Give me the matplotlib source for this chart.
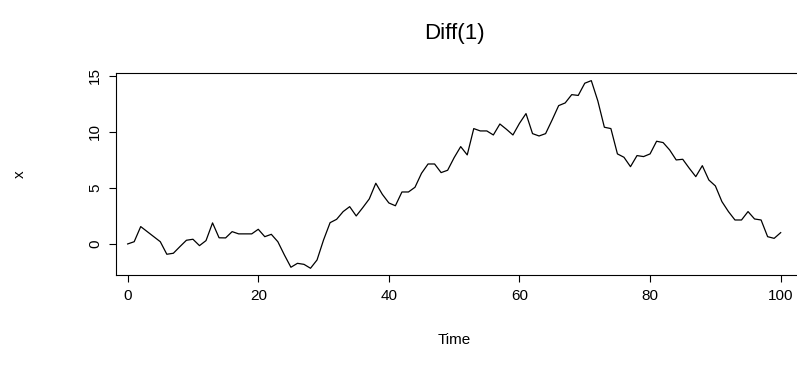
import numpy as np
import matplotlib
matplotlib.use("Agg")
import matplotlib.pyplot as plt

plt.rcParams['font.family'] = ['Liberation Sans', 'DejaVu Sans']

# series, time 0..100
time = np.arange(0, 101)
x = [0.0, 0.2, 1.55, 1.1, 0.65, 0.2, -0.92, -0.83, -0.24, 0.33,
     0.42, -0.15, 0.3, 1.88, 0.55, 0.54, 1.1, 0.9, 0.9, 0.9,
     1.31, 0.65, 0.86, 0.2, -0.98, -2.08, -1.73, -1.82, -2.17, -1.43,
     0.36, 1.9, 2.2, 2.89, 3.33, 2.5, 3.24, 4.02, 5.42, 4.43,
     3.66, 3.41, 4.64, 4.64, 5.06, 6.31, 7.14, 7.14, 6.37, 6.58,
     7.71, 8.69, 7.95, 10.3, 10.09, 10.09, 9.73, 10.71, 10.24, 9.73,
     10.77, 11.64, 9.85, 9.64, 9.85, 11.07, 12.35, 12.59, 13.33, 13.26,
     14.35, 14.58, 12.77, 10.42, 10.3, 8.04, 7.74, 6.9, 7.89, 7.8,
     8.04, 9.17, 9.05, 8.39, 7.5, 7.56, 6.76, 6.01, 6.99, 5.71,
     5.18, 3.78, 2.89, 2.14, 2.14, 2.89, 2.23, 2.14, 0.65, 0.5,
     1.01]

xticks = [0, 20, 40, 60, 80, 100]
yticks = [0, 5, 10, 15]

W, H = 797, 372
fig = plt.figure(figsize=(W / 100, H / 100), dpi=100)
# plot box runs slightly past the right edge of the picture, as in the reference
axw, axh = 0.8668, 0.5438
ax = fig.add_axes([0.1455, 0.2608, axw, axh])
ax.plot(time, x, color='black', linewidth=0.9)

ax.set_xlim(-1.79, 104)
ax.set_ylim(-2.77, 15.29)
ax.set_xticks(xticks)
ax.set_yticks(yticks)
ax.set_yticklabels([str(v) for v in yticks], rotation=90, va='center')
ax.tick_params(direction='out', length=5, width=0.8, labelsize=11, pad=5)
for s in ax.spines.values():
    s.set_linewidth(0.8)

cx = (454 - 116) / (axw * W)
ax.set_title('Diff(1)', fontsize=16, x=cx, pad=24)
ax.set_xlabel('Time', fontsize=11)
ax.xaxis.set_label_coords(cx, -(333 - 275) / (axh * H))
ax.set_ylabel('x', fontsize=11, labelpad=44)

fig.savefig('out.png', dpi=100)
